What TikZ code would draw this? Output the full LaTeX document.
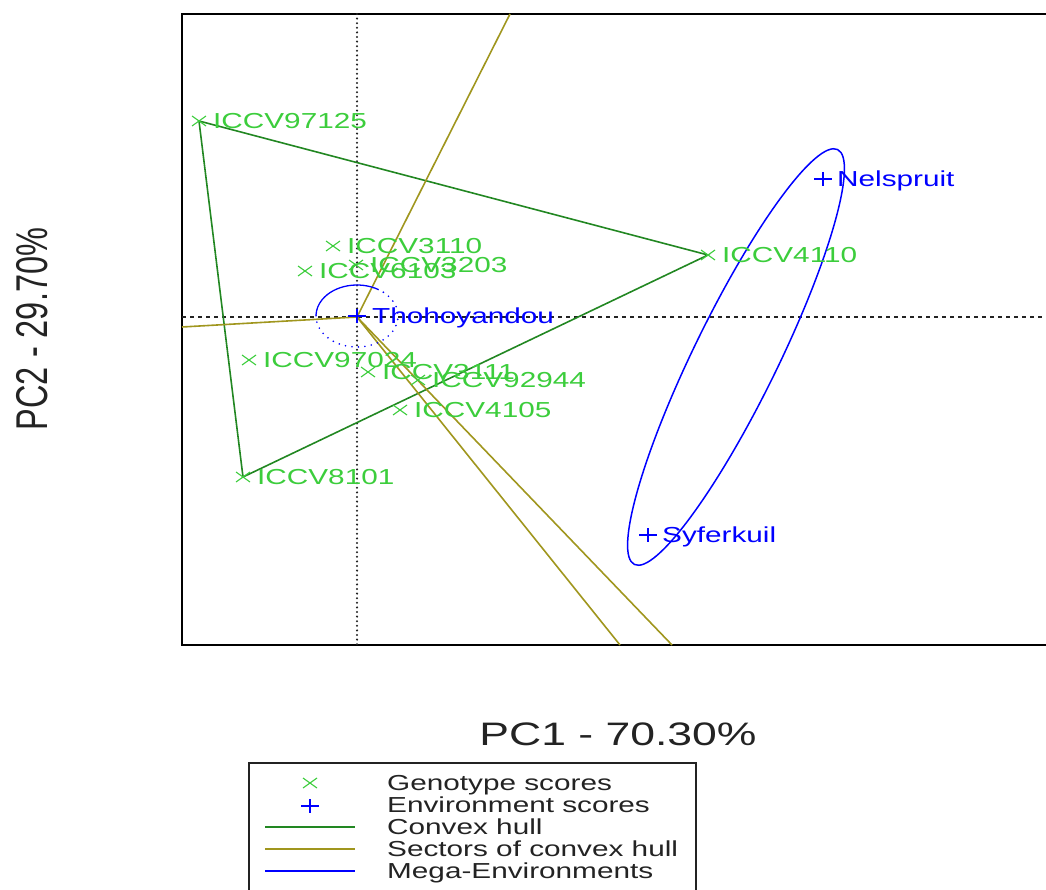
\documentclass[tikz,border=0pt]{standalone}
\usepackage{fontspec}
\setmainfont{Liberation Sans}[FakeStretch=1.37]
\newfontfamily\plainsans{Liberation Sans}
\usetikzlibrary{positioning}
\definecolor{genocol}{RGB}{60,205,60}
\definecolor{hullcol}{RGB}{34,135,34}
\definecolor{sectcol}{RGB}{160,150,30}
\definecolor{envcol}{RGB}{0,0,255}
\definecolor{textcol}{RGB}{35,35,35}

\begin{document}
\begin{tikzpicture}[x=1pt, y=-1pt,
  glab/.style={text=genocol, inner sep=0pt, text height=15.5pt, text depth=0pt,
    font=\fontsize{21.7}{26}\selectfont},
  elab/.style={glab, text=envcol},
  leglab/.style={glab, text=textcol, anchor=west}]

  \useasboundingbox (0,0) rectangle (1046,890);

  \newcommand\Gmark[1]{\draw[genocol, line width=1.1pt] (#1) +(-7,-5) -- +(7,5) +(-7,5) -- +(7,-5);}
  \newcommand\Emark[1]{\draw[envcol, line width=1.3pt] (#1) +(-9,0) -- +(9,0) +(0,-7) -- +(0,7);}

  %% frame and axes
  \coordinate (o) at (357,317);
  \draw[line width=2.5pt] (1046,14) -- (182,14) -- (182,645) -- (1046,645);
  \draw[textcol, line width=2.3pt, line cap=round, dash pattern=on 0pt off 4.6pt] (357,14) -- (357,645);
  \draw[textcol, line width=1.4pt, dash pattern=on 4pt off 4pt] (182,317) -- (1046,317);

  %% genotypes
  \coordinate (g97125) at (199,121);
  \coordinate (g3110) at (333,246);
  \coordinate (g3203) at (356,265);
  \coordinate (g6103) at (305,271);
  \coordinate (g4110) at (708,255);
  \coordinate (g97024) at (249,360);
  \coordinate (g3111) at (368,372);
  \coordinate (g92944) at (418,380);
  \coordinate (g4105) at (400,410);
  \coordinate (g8101) at (243,477);

  %% environments
  \coordinate (eNel) at (823,179);
  \coordinate (eSyf) at (648,535);
  \coordinate (eTho) at (357,316);

  %% convex hull
  \draw[hullcol, line width=1.6pt] (g97125) -- (g4110) -- (g8101) -- cycle;

  %% sectors
  \coordinate (s1) at (510,14);
  \coordinate (s2) at (182,327);
  \coordinate (s3) at (620,645);
  \coordinate (s4) at (672,645);
  \draw[sectcol, line width=1.6pt] (o) -- (s1);
  \draw[sectcol, line width=1.6pt] (o) -- (s2);
  \draw[sectcol, line width=1.6pt] (o) -- (s3);
  \draw[sectcol, line width=1.6pt] (o) -- (s4);

  %% mega-environments
  \coordinate (mega) at (736,357);
  \draw[envcol, line width=1.5pt, rotate around={63.9:(mega)}] (mega) ellipse[x radius=231, y radius=42];
  \draw[envcol, line width=1.3pt] (eTho) ++(-58:41 and 31) arc[start angle=-58, end angle=-178, x radius=41, y radius=31];
  \draw[envcol, line width=1.8pt, line cap=round, dash pattern=on 0pt off 6.5pt] (eTho) ++(-50:41 and 31) arc[start angle=-50, end angle=185, x radius=41, y radius=31];

  %% points and labels
  \Gmark{g97125}
  \Gmark{g3110}
  \Gmark{g3203}
  \Gmark{g6103}
  \Gmark{g4110}
  \Gmark{g97024}
  \Gmark{g3111}
  \Gmark{g92944}
  \Gmark{g4105}
  \Gmark{g8101}
  \node[glab, right=14pt of g97125] (l97125) {ICCV97125};
  \node[glab, right=14pt of g3110] (l3110) {ICCV3110};
  \node[glab, right=14pt of g3203] (l3203) {ICCV3203};
  \node[glab, right=14pt of g6103] (l6103) {ICCV6103};
  \node[glab, right=14pt of g4110] (l4110) {ICCV4110};
  \node[glab, right=14pt of g97024] (l97024) {ICCV97024};
  \node[glab, right=14pt of g3111] (l3111) {ICCV3111};
  \node[glab, right=14pt of g92944] (l92944) {ICCV92944};
  \node[glab, right=14pt of g4105] (l4105) {ICCV4105};
  \node[glab, right=14pt of g8101] (l8101) {ICCV8101};

  \Emark{eNel}
  \Emark{eSyf}
  \Emark{eTho}
  \node[elab, right=14pt of eNel] (lNel) {Nelspruit};
  \node[elab, right=14pt of eSyf] (lSyf) {Syferkuil};
  \node[elab, right=15pt of eTho] (lTho) {Thohoyandou};

  %% axis titles
  \node[text=textcol, font=\fontsize{32.5}{38}\selectfont] (xtitle) at (618,734) {PC1 - 70.30\%};
  \node[text=textcol, rotate=90, font=\plainsans\fontsize{32.5}{38}\selectfont] (ytitle) at (32,329)
    {\scalebox{1}[1.37]{PC2 - 29.70\%}};

  %% legend
  \draw[textcol, line width=1.5pt] (249,892) -- (249,763) -- (696,763) -- (696,892);
  \coordinate (k1) at (310,783);
  \coordinate (k2) at (310,806);
  \Gmark{k1}
  \Emark{k2}
  \coordinate (k3a) at (265,827); \coordinate (k3b) at (355,827);
  \coordinate (k4a) at (265,849); \coordinate (k4b) at (355,849);
  \coordinate (k5a) at (265,871); \coordinate (k5b) at (355,871);
  \draw[hullcol, line width=1.6pt] (k3a) -- (k3b);
  \draw[sectcol, line width=1.6pt] (k4a) -- (k4b);
  \draw[envcol, line width=1.6pt] (k5a) -- (k5b);
  \node[leglab] (t1) at (387,783) {Genotype scores};
  \node[leglab] (t2) at (387,805) {Environment scores};
  \node[leglab] (t3) at (387,827) {Convex hull};
  \node[leglab] (t4) at (387,849) {Sectors of convex hull};
  \node[leglab] (t5) at (387,871) {Mega-Environments};

\end{tikzpicture}
\end{document}
